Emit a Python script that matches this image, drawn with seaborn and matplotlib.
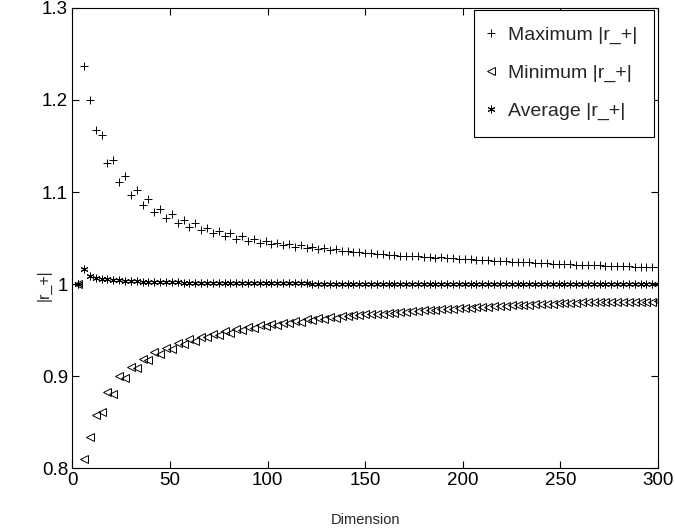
import numpy as np
import matplotlib
matplotlib.use("Agg")
import matplotlib.pyplot as plt
import seaborn as sns

# dimensions sampled every 3 from 3 to 300
dims = np.arange(3, 301, 3)

max_r = [1.000, 1.237, 1.200, 1.167, 1.162, 1.132, 1.135, 1.111, 1.117, 1.097,
         1.102, 1.086, 1.092, 1.078, 1.082, 1.072, 1.076, 1.066, 1.070, 1.062,
         1.066, 1.059, 1.061, 1.055, 1.058, 1.052, 1.055, 1.049, 1.052, 1.047,
         1.049, 1.045, 1.047, 1.043, 1.045, 1.042, 1.043, 1.040, 1.042, 1.039,
         1.040, 1.038, 1.039, 1.037, 1.038, 1.036, 1.036, 1.035, 1.035, 1.034,
         1.034, 1.033, 1.033, 1.032, 1.032, 1.031, 1.031, 1.030, 1.030, 1.029,
         1.029, 1.028, 1.029, 1.028, 1.028, 1.027, 1.027, 1.027, 1.026, 1.026,
         1.026, 1.025, 1.025, 1.025, 1.024, 1.024, 1.024, 1.024, 1.023, 1.023,
         1.023, 1.022, 1.022, 1.022, 1.022, 1.021, 1.021, 1.021, 1.021, 1.021,
         1.020, 1.020, 1.020, 1.020, 1.020, 1.019, 1.019, 1.019, 1.019, 1.019]

min_r = [1.000, 0.810, 0.834, 0.858, 0.861, 0.883, 0.881, 0.900, 0.898, 0.910,
         0.909, 0.919, 0.917, 0.926, 0.924, 0.931, 0.930, 0.936, 0.935, 0.940,
         0.938, 0.943, 0.942, 0.946, 0.945, 0.949, 0.947, 0.951, 0.950, 0.953,
         0.952, 0.955, 0.954, 0.957, 0.956, 0.958, 0.958, 0.960, 0.959, 0.962,
         0.961, 0.963, 0.962, 0.964, 0.963, 0.965, 0.965, 0.966, 0.966, 0.967,
         0.967, 0.968, 0.968, 0.969, 0.969, 0.970, 0.970, 0.971, 0.971, 0.972,
         0.972, 0.972, 0.973, 0.973, 0.973, 0.974, 0.974, 0.974, 0.975, 0.975,
         0.975, 0.976, 0.976, 0.976, 0.977, 0.977, 0.977, 0.977, 0.978, 0.978,
         0.978, 0.978, 0.979, 0.979, 0.979, 0.979, 0.980, 0.980, 0.980, 0.980,
         0.980, 0.980, 0.981, 0.981, 0.981, 0.981, 0.981, 0.981, 0.981, 0.982]

avg_r = [1.000, 1.016, 1.009, 1.007, 1.006, 1.005, 1.004, 1.004, 1.003, 1.003,
         1.003, 1.002, 1.002, 1.002, 1.002, 1.002, 1.002, 1.002, 1.001, 1.001,
         1.001, 1.001, 1.001, 1.001, 1.001, 1.001, 1.001, 1.001, 1.001, 1.001,
         1.001, 1.001, 1.001, 1.001, 1.001, 1.001, 1.001, 1.001, 1.001, 1.001,
         1.000, 1.000, 1.000, 1.000, 1.000, 1.000, 1.000, 1.000, 1.000, 1.000,
         1.000, 1.000, 1.000, 1.000, 1.000, 1.000, 1.000, 1.000, 1.000, 1.000,
         1.000, 1.000, 1.000, 1.000, 1.000, 1.000, 1.000, 1.000, 1.000, 1.000,
         1.000, 1.000, 1.000, 1.000, 1.000, 1.000, 1.000, 1.000, 1.000, 1.000,
         1.000, 1.000, 1.000, 1.000, 1.000, 1.000, 1.000, 1.000, 1.000, 1.000,
         1.000, 1.000, 1.000, 1.000, 1.000, 1.000, 1.000, 1.000, 1.000, 1.000]

xticks = [0, 50, 100, 150, 200, 250, 300]
yticks = [0.8, 0.9, 1.0, 1.1, 1.2, 1.3]
yticklabels = ["0.8", "0.9", "1", "1.1", "1.2", "1.3"]

sns.set_style("ticks")
plt.rcParams["font.family"] = ["Liberation Sans", "DejaVu Sans"]

fig = plt.figure(figsize=(6.75, 5.29), dpi=100)
ax = fig.add_axes([0.107, 0.115, 0.868, 0.87])

common = dict(linestyle="", color="k", markeredgecolor="k", sort=False,
              estimator=None, ax=ax)
sns.lineplot(x=dims, y=max_r, marker="+", markersize=5.5, markeredgewidth=0.7,
             label="Maximum |r_+|", **common)
sns.lineplot(x=dims, y=min_r, marker="<", markersize=6, markeredgewidth=0.7,
             markerfacecolor="none", label="Minimum |r_+|", **common)
sns.lineplot(x=dims, y=avg_r, marker=(6, 2, 0), markersize=5.5, markeredgewidth=0.7,
             label="Average |r_+|", **common)

ax.set_xlim(0, 300)
ax.set_ylim(0.8, 1.3)
ax.set_xticks(xticks)
ax.set_xticklabels([str(t) for t in xticks])
ax.set_yticks(yticks)
ax.set_yticklabels(yticklabels)
ax.tick_params(direction="in", top=True, right=True, length=5, width=0.8,
               labelsize=13.5, colors="k", pad=3)
for s in ax.spines.values():
    s.set_visible(True)
    s.set_color("k")
    s.set_linewidth(0.8)

ax.set_xlabel("Dimension", fontsize=10.5)
ax.xaxis.set_label_coords(0.5, -0.097)
ax.set_ylabel("|r_+|", fontsize=11.5)
ax.yaxis.set_label_coords(-0.035, 0.397)

leg = ax.legend(loc="upper right", bbox_to_anchor=(0.969, 0.981),
                bbox_transform=fig.transFigure, fontsize=14, frameon=True,
                fancybox=False, edgecolor="k", framealpha=1, numpoints=1,
                handlelength=0.0, handletextpad=0.9, labelspacing=1.03,
                borderpad=0.85, borderaxespad=0)
leg.get_frame().set_linewidth(0.8)

fig.savefig("out.png", dpi=100)
